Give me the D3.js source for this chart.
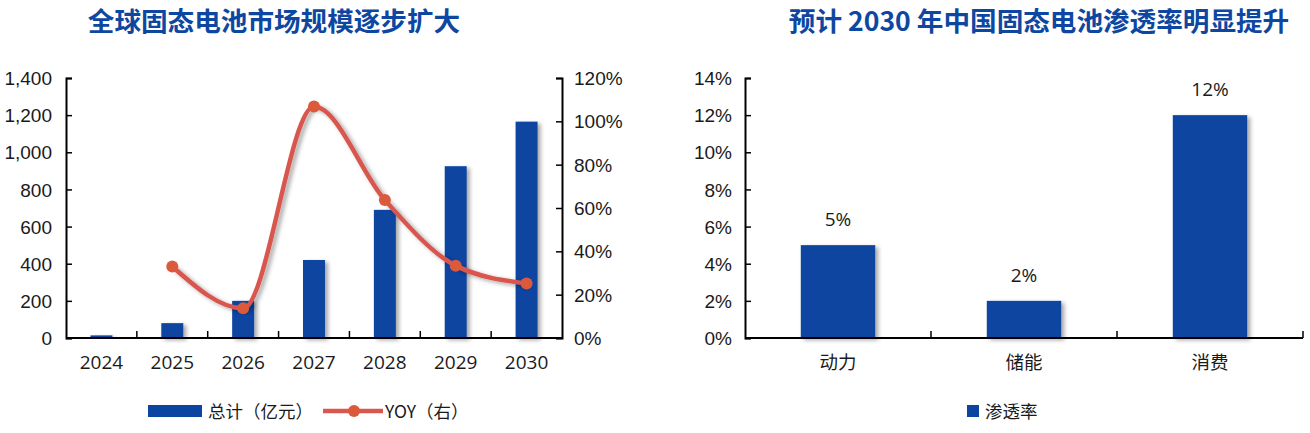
<!DOCTYPE html>
<html>
<head>
<meta charset="utf-8">
<script src="https://cdn.jsdelivr.net/npm/d3@7"></script>
<style>
  body { margin: 0; background: #fff; }
  svg { display: block; font-family: "Open Sans", "Noto Sans CJK SC", sans-serif; }
</style>
</head>
<body>
<div id="chart"></div>
<script>
// left chart data
const years = ["2024", "2025", "2026", "2027", "2028", "2029", "2030"]
const totals = [14, 80, 200, 420, 690, 925, 1165]
const yoy = [null, 0.33, 0.137, 1.068, 0.637, 0.334, 0.252]
const leftTicks = [0, 200, 400, 600, 800, 1000, 1200, 1400]
const rightTicks = [0, 0.2, 0.4, 0.6, 0.8, 1.0, 1.2]

// right chart data
const sectors = ["动力", "储能", "消费"]
const penetration = [0.05, 0.02, 0.12]
const penTicks = [0, 0.02, 0.04, 0.06, 0.08, 0.10, 0.12, 0.14]

const blue = "#0b44a1"
const titleBlue = "#0d47a1"
const lineRed = "#d9574f"
const dotRed = "#dc5a3c"
const textColor = "#1a1a1a"
const cjk = "'Noto Sans CJK SC', sans-serif"

const W = 1310, H = 433
const svg = d3.select("#chart").append("svg")
  .attr("width", W).attr("height", H)

const defs = svg.append("defs")
defs.append("filter").attr("id", "shadow")
  .attr("x", "-20%").attr("y", "-20%").attr("width", "150%").attr("height", "150%")
  .append("feDropShadow")
  .attr("dx", 3).attr("dy", 2).attr("stdDeviation", 2)
  .attr("flood-color", "#000").attr("flood-opacity", 0.35)

function title(x, txt) {
  svg.append("text")
    .attr("x", x).attr("y", 31)
    .attr("text-anchor", "middle")
    .attr("font-family", cjk)
    .attr("font-weight", 700)
    .attr("font-size", 26.6)
    .attr("fill", titleBlue)
    .text(txt)
}

function styleAxis(g) {
  g.select(".domain").attr("stroke", "#000").attr("stroke-width", 2)
  g.selectAll(".tick line").attr("stroke", "#000").attr("stroke-width", 1.5)
  g.selectAll(".tick text").attr("fill", textColor).attr("font-size", 19).attr("dy", "0.35em")
}

function legendText(g, x, txt) {
  g.append("text").attr("x", x).attr("y", 6.5).attr("font-size", 17.5).attr("fill", textColor)
    .attr("font-family", cjk).text(txt)
}

// ---------- left chart ----------
{
  const x0 = 66, x1 = 562, yTop = 78, yBot = 338
  const x = d3.scaleBand().domain(years).range([x0, x1]).paddingInner(0.69).paddingOuter(0.345)
  const xt = d3.scaleBand().domain(years).range([x0, x1])
  const y = d3.scaleLinear().domain([0, 1400]).range([yBot, yTop])
  const y2 = d3.scaleLinear().domain([0, 1.2]).range([yBot, yTop])

  title(274, "全球固态电池市场规模逐步扩大")

  svg.append("g")
    .selectAll("rect")
    .data(years)
    .join("rect")
    .attr("x", d => x(d))
    .attr("width", x.bandwidth())
    .attr("y", (d, i) => y(totals[i]))
    .attr("height", (d, i) => yBot - y(totals[i]))
    .attr("fill", blue)
    .attr("filter", "url(#shadow)")

  // x axis: ticks between categories, pointing up
  const gx = svg.append("g").attr("transform", `translate(0,${yBot})`)
  gx.append("line").attr("x1", x0).attr("x2", x1).attr("stroke", "#000").attr("stroke-width", 2)
  gx.selectAll("line.t")
    .data(years.slice(1))
    .join("line")
    .attr("class", "t")
    .attr("x1", d => xt(d)).attr("x2", d => xt(d))
    .attr("y1", 0).attr("y2", -7)
    .attr("stroke", "#000").attr("stroke-width", 1.5)
  gx.selectAll("text")
    .data(years)
    .join("text")
    .attr("x", d => xt(d) + xt.bandwidth() / 2)
    .attr("y", 31)
    .attr("text-anchor", "middle")
    .attr("fill", textColor)
    .attr("font-size", 19)
    .text(d => d)

  svg.append("g")
    .attr("transform", `translate(${x0},0)`)
    .call(d3.axisRight(y).tickValues(leftTicks).tickSize(6).tickFormat(d3.format(",")))
    .call(styleAxis)
    .call(g => g.selectAll(".tick text").attr("x", -14).attr("text-anchor", "end"))

  svg.append("g")
    .attr("transform", `translate(${x1},0)`)
    .call(d3.axisLeft(y2).tickValues(rightTicks).tickSize(6).tickFormat(d3.format(".0%")))
    .call(styleAxis)
    .call(g => g.selectAll(".tick text").attr("x", 12).attr("text-anchor", "start"))

  const pts = years.map((d, i) => ({ year: d, v: yoy[i] })).filter(d => d.v !== null)
  const line = d3.line()
    .x(d => xt(d.year) + xt.bandwidth() / 2)
    .y(d => y2(d.v))
    .curve(d3.curveMonotoneX)

  svg.append("path")
    .datum(pts)
    .attr("d", line)
    .attr("fill", "none")
    .attr("stroke", lineRed)
    .attr("stroke-width", 4.5)
    .attr("filter", "url(#shadow)")

  svg.append("g")
    .selectAll("circle")
    .data(pts)
    .join("circle")
    .attr("cx", d => xt(d.year) + xt.bandwidth() / 2)
    .attr("cy", d => y2(d.v))
    .attr("r", 6)
    .attr("fill", dotRed)

  // legend
  const lg = svg.append("g").attr("transform", "translate(0,411)")
  lg.append("rect").attr("x", 148).attr("y", -6).attr("width", 54).attr("height", 12).attr("fill", blue)
  legendText(lg, 208, "总计（亿元）")
  lg.append("line").attr("x1", 323).attr("x2", 383).attr("stroke", lineRed).attr("stroke-width", 4.5)
  lg.append("circle").attr("cx", 354).attr("r", 6).attr("fill", dotRed)
  legendText(lg, 385, "YOY（右）")
}

// ---------- right chart ----------
{
  const x0 = 745, x1 = 1303, yTop = 78, yBot = 338
  const x = d3.scaleBand().domain(sectors).range([x0, x1]).paddingInner(0.6).paddingOuter(0.3)
  const xt = d3.scaleBand().domain(sectors).range([x0, x1])
  const y = d3.scaleLinear().domain([0, 0.14]).range([yBot, yTop])

  title(1039, "预计 2030 年中国固态电池渗透率明显提升")

  svg.append("g")
    .selectAll("rect")
    .data(sectors)
    .join("rect")
    .attr("x", d => x(d))
    .attr("width", x.bandwidth())
    .attr("y", (d, i) => y(penetration[i]))
    .attr("height", (d, i) => yBot - y(penetration[i]))
    .attr("fill", blue)
    .attr("filter", "url(#shadow)")

  svg.append("g")
    .selectAll("text")
    .data(sectors)
    .join("text")
    .attr("x", d => xt(d) + xt.bandwidth() / 2)
    .attr("y", (d, i) => y(penetration[i]) - 19)
    .attr("text-anchor", "middle")
    .attr("font-size", 19)
    .attr("fill", textColor)
    .text((d, i) => d3.format(".0%")(penetration[i]))

  const gx = svg.append("g").attr("transform", `translate(0,${yBot})`)
  gx.append("line").attr("x1", x0).attr("x2", x1).attr("stroke", "#000").attr("stroke-width", 2)
  gx.selectAll("line.t")
    .data(sectors)
    .join("line")
    .attr("class", "t")
    .attr("x1", d => xt(d) + xt.bandwidth()).attr("x2", d => xt(d) + xt.bandwidth())
    .attr("y1", 0).attr("y2", -7)
    .attr("stroke", "#000").attr("stroke-width", 1.5)
  gx.selectAll("text")
    .data(sectors)
    .join("text")
    .attr("x", d => xt(d) + xt.bandwidth() / 2)
    .attr("y", 31)
    .attr("text-anchor", "middle")
    .attr("fill", textColor)
    .attr("font-size", 18.5)
    .attr("font-family", cjk)
    .text(d => d)

  svg.append("g")
    .attr("transform", `translate(${x0},0)`)
    .call(d3.axisRight(y).tickValues(penTicks).tickSize(6).tickFormat(d3.format(".0%")))
    .call(styleAxis)
    .call(g => g.selectAll(".tick text").attr("x", -13).attr("text-anchor", "end"))

  const lg = svg.append("g").attr("transform", "translate(0,411)")
  lg.append("rect").attr("x", 967).attr("y", -6).attr("width", 12).attr("height", 12).attr("fill", blue)
  legendText(lg, 985, "渗透率")
}
</script>
</body>
</html>
